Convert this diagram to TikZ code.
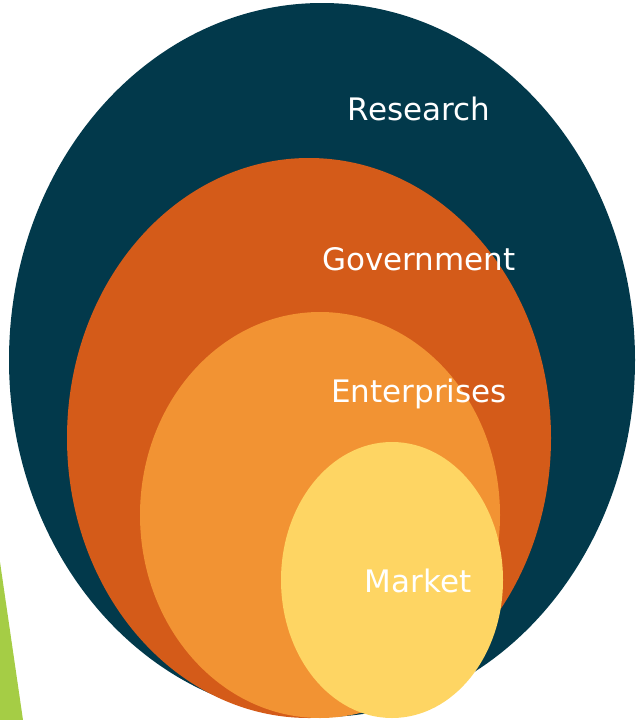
\documentclass[tikz,border=0pt]{standalone}
\usepackage{fontspec}
\setmainfont{DejaVu Sans}
\usetikzlibrary{calc}

\definecolor{deepteal}{HTML}{02394B}
\definecolor{burnt}{HTML}{D45B19}
\definecolor{amber}{HTML}{F29333}
\definecolor{sand}{HTML}{FED563}
\definecolor{leaf}{HTML}{A5CD45}

\tikzset{
  ringlabel/.style={text=white, font=\fontsize{31}{37}\selectfont, inner sep=0pt}
}

\begin{document}
\begin{tikzpicture}[x=1pt, y=-1pt]

		\useasboundingbox (0,0) rectangle (636,720);
		\clip (0,0) rectangle (636,720);

		% nested ellipses, outermost first
		\fill[deepteal] (322,360) ellipse [x radius=313, y radius=357];
		\fill[burnt]    (309,438) ellipse [x radius=242, y radius=280];
		\fill[amber]    (320,515) ellipse [x radius=180, y radius=203];
		\fill[sand]     (392,580) ellipse [x radius=111, y radius=138];

		% bullet wedge at the left edge
		\fill[leaf] (0,562) -- (23,720) -- (0,720) -- cycle;

		\node[ringlabel] (research)    at (419,109) {Research};
		\node[ringlabel] (government)  at (419,259) {Government};
		\node[ringlabel] (enterprises) at (419,394) {Enterprises};
		\node[ringlabel] (market)      at (418,581) {Market};

	\end{tikzpicture}
\end{document}
